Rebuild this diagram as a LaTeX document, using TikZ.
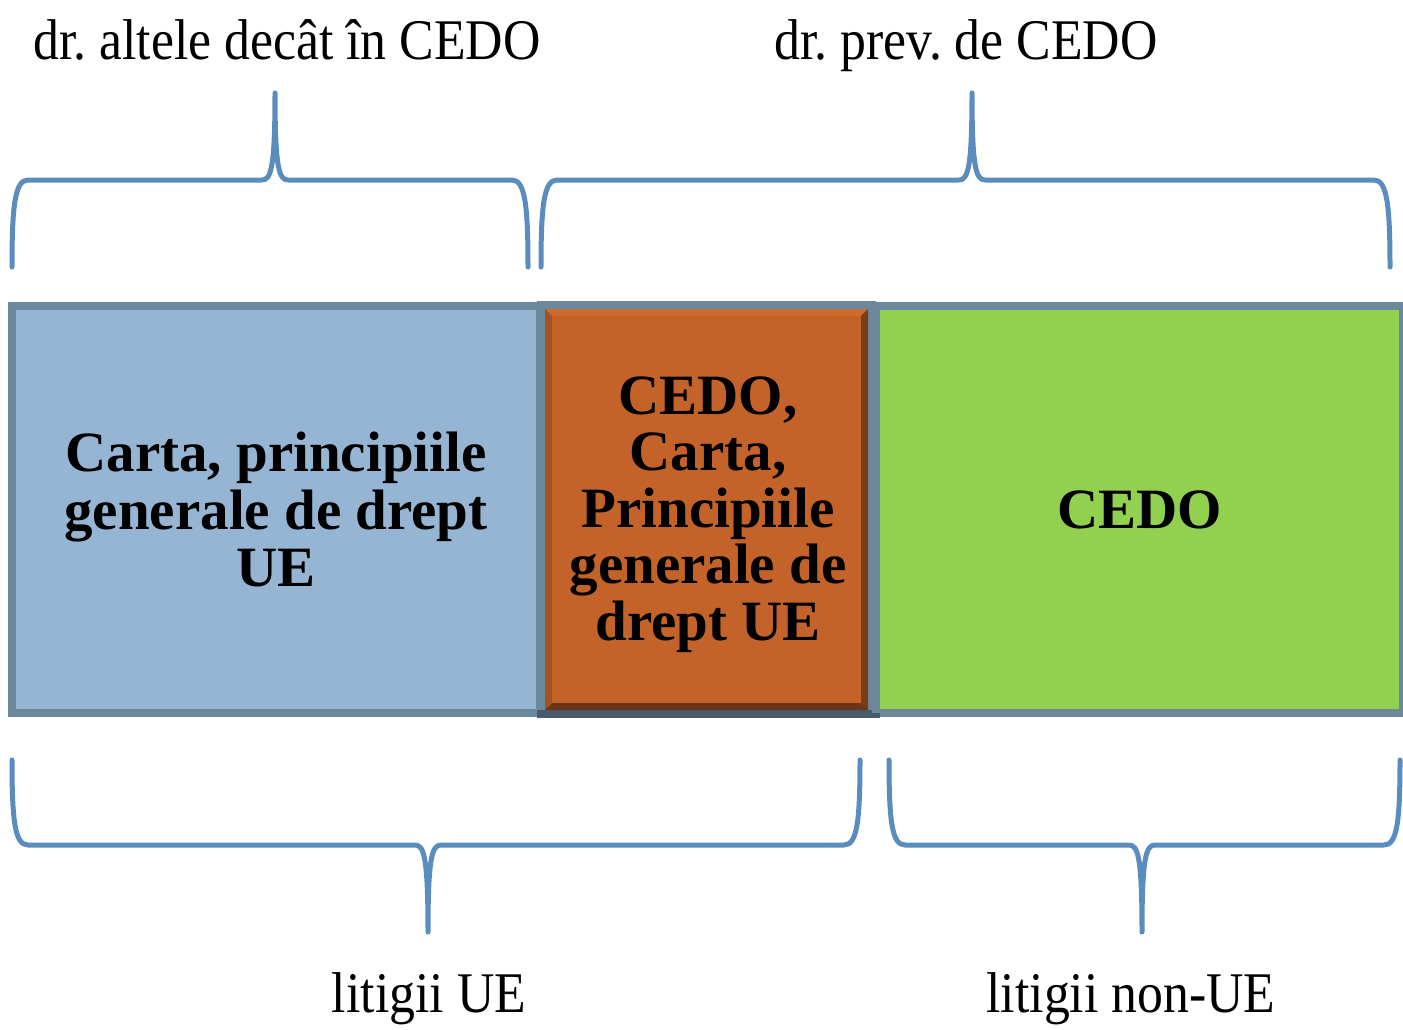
\documentclass[tikz,border=0pt]{standalone}
\usepackage{fontspec}
\setmainfont{Liberation Serif}
\newfontfamily\lblfont[FakeStretch=0.9]{Liberation Serif}
\frenchspacing
\definecolor{braceblue}{HTML}{5A8DBE}
\definecolor{bluefill}{HTML}{95B5D3}
\definecolor{frame}{HTML}{6C889D}
\definecolor{frameshadow}{HTML}{4A5A68}
\definecolor{orangefill}{HTML}{C46329}
\definecolor{orangetop}{HTML}{CC6B2D}
\definecolor{orangeleft}{HTML}{A4521F}
\definecolor{orangeright}{HTML}{7B3C17}
\definecolor{orangebottom}{HTML}{6A3518}
\definecolor{greenfill}{HTML}{92D050}
\tikzset{
  bracepath/.style={draw=braceblue, line width=5pt, line cap=round, line join=round},
  boxstyle/.style={draw=frame, line width=7.5pt, inner sep=0pt, align=center,
    font=\bfseries\fontsize{57}{57.5}\selectfont},
  lbl/.style={font=\lblfont\fontsize{57.5}{58}\selectfont, anchor=base, inner sep=0pt},
}
\newcommand{\upbrace}[3]{%
  \draw[bracepath] (#1,267) .. controls (#1,205) and (#1+3,180) .. (#1+16,180)
    -- (#2-13,180) .. controls (#2-4,180) and (#2,168) .. (#2,93)
    .. controls (#2,168) and (#2+4,180) .. (#2+13,180)
    -- (#3-16,180) .. controls (#3-3,180) and (#3,205) .. (#3,267);}
\newcommand{\downbrace}[3]{%
  \draw[bracepath] (#1,760) .. controls (#1,822) and (#1+3,845) .. (#1+16,845)
    -- (#2-13,845) .. controls (#2-4,845) and (#2,857) .. (#2,932)
    .. controls (#2,857) and (#2+4,845) .. (#2+13,845)
    -- (#3-16,845) .. controls (#3-3,845) and (#3,822) .. (#3,760);}
\begin{document}
\begin{tikzpicture}[x=1pt,y=-1pt]
\useasboundingbox[fill=white] (0,0) rectangle (1403,1030);

% braces
\upbrace{12}{275}{528}
\upbrace{541}{972}{1390}
\downbrace{12}{428}{860}
\downbrace{889}{1142}{1400}

% labels
\node[lbl] (t1) at (287,60) {dr. altele decât în CEDO};
\node[lbl] (t2) at (966,60) {dr. prev. de CEDO};
\node[lbl] (b1) at (429,1012) {litigii UE};
\node[lbl] (b2) at (1131,1012) {litigii non-UE};

% blue box
\node[boxstyle, fill=bluefill, minimum width=528pt, minimum height=407pt] (blue) at (276,509.5)
  {Carta, principiile\\generale de drept\\UE};

% green box
\node[boxstyle, fill=greenfill, minimum width=527pt, minimum height=407pt] (green) at (1139.5,509.5)
  {CEDO};

% orange bevelled box
\fill[frame] (537,301) rectangle (876,712);
\fill[frameshadow] (537,710) rectangle (880,718);
\fill[orangetop] (545,309) -- (868,309) -- (861,316) -- (552,316) -- cycle;
\fill[orangeleft] (545,309) -- (552,316) -- (552,703) -- (545,710) -- cycle;
\fill[orangeright] (868,309) -- (868,710) -- (861,703) -- (861,316) -- cycle;
\fill[orangebottom] (545,710) -- (868,710) -- (861,703) -- (552,703) -- cycle;
\fill[orangefill] (552,316) rectangle (861,703);
\draw[frame, line width=7.5pt] (876,305.75) -- (876,713.25);
\node[align=center, inner sep=0pt, font=\bfseries\fontsize{57}{56.5}\selectfont] (orange) at (708,514.5)
  {CEDO,\\Carta,\\Principiile\\generale de\\drept UE};
\end{tikzpicture}
\end{document}
